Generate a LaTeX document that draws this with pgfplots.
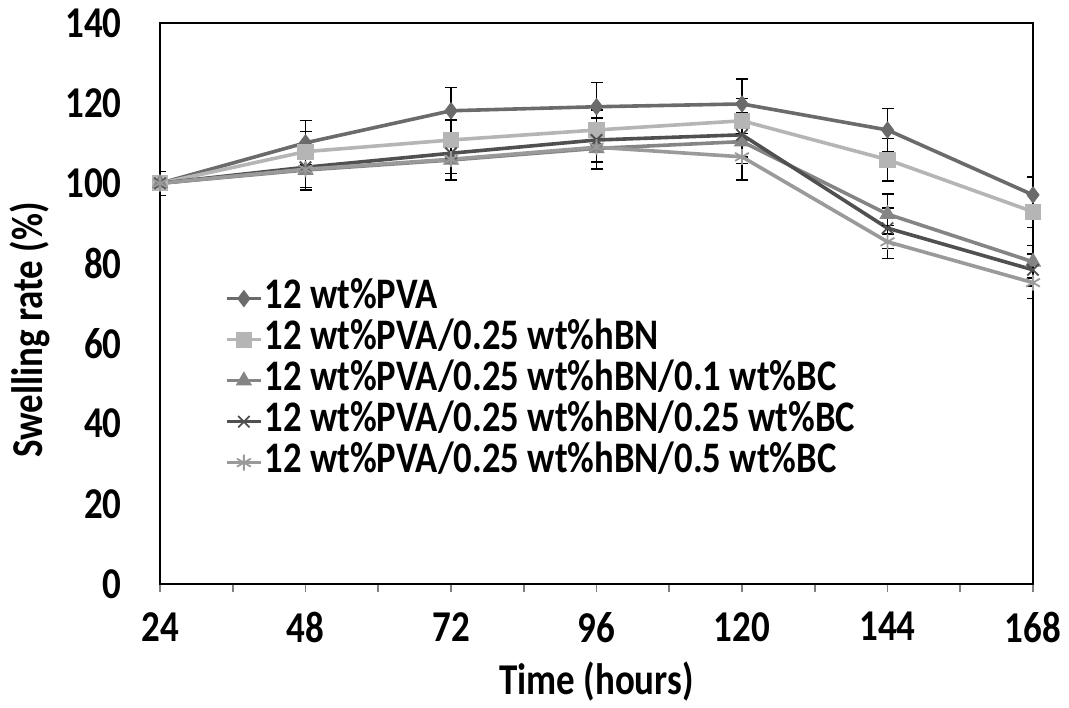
\documentclass[border=0pt]{standalone}
\usepackage{pgfplots}
\pgfplotsset{compat=1.18}
\usepackage{pgfplotstable}
\usepackage{fontspec}
\setmainfont{Carlito}[FakeStretch=0.84]
\definecolor{cA}{HTML}{6B6B6B}
\definecolor{cB}{HTML}{B5B5B5}
\definecolor{cC}{HTML}{858585}
\definecolor{cD}{HTML}{505050}
\definecolor{cE}{HTML}{9A9A9A}
\pgfplotstableread{
x y e
24 100 3
48 110.1 5.5
72 118.1 5.8
96 119.1 6
120 119.8 6.2
144 113.3 5.4
168 97.1 4.5
}\tA
\pgfplotstableread{
x y e
24 100 3
48 107.9 5
72 110.8 5
96 113.3 5
120 115.6 5.5
144 105.9 5.3
168 92.9 4
}\tB
\pgfplotstableread{
x y e
24 100 3
48 103.3 5
72 105.8 5
96 108.7 5
120 110.4 5.5
144 92.3 5
168 80.4 4
}\tC
\pgfplotstableread{
x y e
24 100 3
48 104.0 5
72 107.5 5
96 110.8 5.5
120 112.1 5.5
144 88.8 5
168 78.4 4
}\tD
\pgfplotstableread{
x y e
24 100 3
48 103.5 5
72 106.0 5.2
96 109.0 5.5
120 106.6 5.8
144 85.4 4.1
168 75.2 4
}\tE
\begin{document}
\begin{tikzpicture}
\begin{axis}[
  at={(0,0)}, anchor=south west,
  scale only axis, width=436.5pt, height=280.5pt,
  xmin=24, xmax=168, ymin=0, ymax=140,
  xtick={24,48,...,168}, minor xtick={36,60,...,156},
  ytick={0,20,...,140},
  tick align=outside, xtick pos=bottom, ytick pos=left,
  ytick style={draw=none},
  xtick style={draw=gray, line width=0.8pt},
  minor tick length=4pt, major tick length=4pt,
  axis line style={black, line width=1.1pt},
  /pgf/number format/assume math mode=true,
  ticklabel style={font=\fontsize{22}{24}\selectfont\bfseries},
  yticklabel style={inner sep=0pt, xshift=-15pt},
  xticklabel style={inner sep=0pt, yshift=-10pt},
  xlabel={Time (hours)}, ylabel={Swelling rate (\%)},
  label style={font=\fontsize{22}{24}\selectfont\bfseries},
  xlabel style={at={(axis description cs:0.5,-0.173)}, anchor=center},
  ylabel style={at={(axis description cs:-0.149,0.453)}, anchor=center},
  legend style={at={(axis description cs:0.074,0.545)}, anchor=north west, draw=none, fill=none,
    font=\fontsize{21.8}{23}\selectfont\bfseries, inner sep=0pt, row sep=0.5pt,
    nodes={inner sep=1pt, text height=14pt, text depth=4pt}},
  legend cell align=left,
  every axis plot/.append style={line width=1.8pt},
  error bars/error bar style={black, line width=0.7pt},
  error bars/error mark options={rotate=90, mark size=3pt, black, line width=0.7pt},
]
\addplot[color=cA, mark=diamond*, mark size=4pt, mark options={fill=cA, line width=0.5pt},
  error bars/.cd, y dir=both, y explicit] table[x=x, y=y, y error=e] {\tA};
\addlegendentry{12 wt\%PVA}
\addplot[color=cB, mark=square*, mark size=3.8pt, mark options={fill=cB, line width=0.5pt},
  error bars/.cd, y dir=both, y explicit] table[x=x, y=y, y error=e] {\tB};
\addlegendentry{12 wt\%PVA/0.25 wt\%hBN}
\addplot[color=cC, mark=triangle*, mark size=4.2pt, mark options={fill=cC, line width=0.5pt},
  error bars/.cd, y dir=both, y explicit] table[x=x, y=y, y error=e] {\tC};
\addlegendentry{12 wt\%PVA/0.25 wt\%hBN/0.1 wt\%BC}
\addplot[color=cD, mark=x, mark size=4pt, mark options={line width=0.9pt},
  error bars/.cd, y dir=both, y explicit] table[x=x, y=y, y error=e] {\tD};
\addlegendentry{12 wt\%PVA/0.25 wt\%hBN/0.25 wt\%BC}
\addplot[color=cE, mark=asterisk, mark size=4pt, mark options={line width=0.9pt},
  error bars/.cd, y dir=both, y explicit] table[x=x, y=y, y error=e] {\tE};
\addlegendentry{12 wt\%PVA/0.25 wt\%hBN/0.5 wt\%BC}
\end{axis}
\pgfresetboundingbox
\path (-80pt,-61.5pt) rectangle (454.5pt,292pt);
\end{tikzpicture}
\end{document}
